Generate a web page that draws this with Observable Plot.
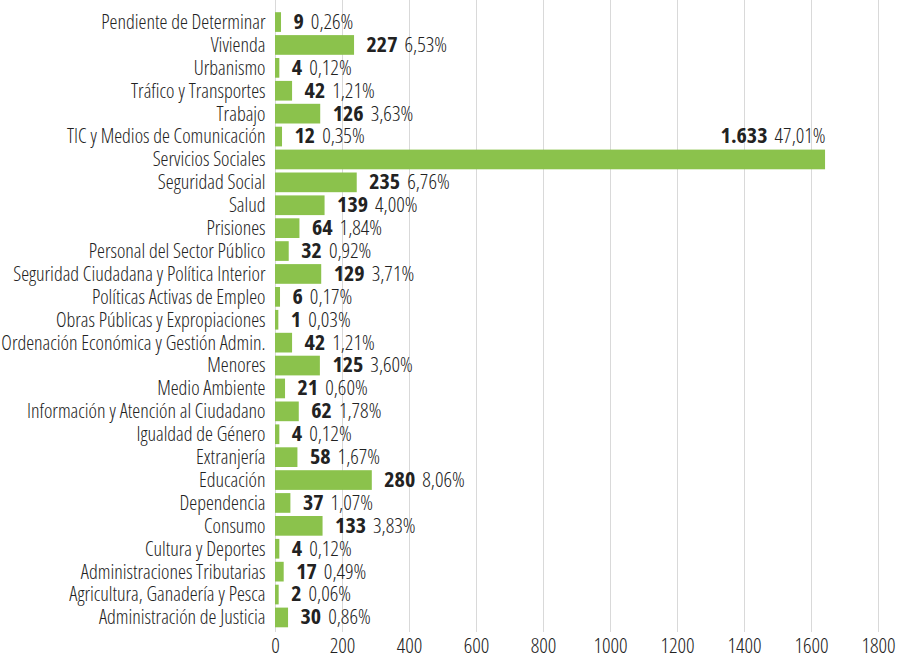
<!DOCTYPE html>
<html>
<head>
<meta charset="utf-8">
<script src="https://cdn.jsdelivr.net/npm/d3@7"></script>
<script src="https://cdn.jsdelivr.net/npm/@observablehq/plot@0.6"></script>
<style>
  html, body { margin: 0; padding: 0; background: #fff; }
  #chart svg { font-family: "Open Sans", "DejaVu Sans Condensed", sans-serif; font-stretch: condensed; font-weight: 300; }
</style>
</head>
<body>
<div id="chart"></div>
<script>
const categories = [
  "Pendiente de Determinar", "Vivienda", "Urbanismo", "Tráfico y Transportes", "Trabajo",
  "TIC y Medios de Comunicación", "Servicios Sociales", "Seguridad Social", "Salud", "Prisiones",
  "Personal del Sector Público", "Seguridad Ciudadana y Política Interior", "Políticas Activas de Empleo",
  "Obras Públicas y Expropiaciones", "Ordenación Económica y Gestión Admin.", "Menores", "Medio Ambiente",
  "Información y Atención al Ciudadano", "Igualdad de Género", "Extranjería", "Educación", "Dependencia",
  "Consumo", "Cultura y Deportes", "Administraciones Tributarias", "Agricultura, Ganadería y Pesca",
  "Administración de Justicia"
];
const counts = [9, 227, 4, 42, 126, 12, 1633, 235, 139, 64, 32, 129, 6, 1, 42, 125, 21, 62, 4, 58, 280, 37, 133, 4, 17, 2, 30];
const percents = [0.26, 6.53, 0.12, 1.21, 3.63, 0.35, 47.01, 6.76, 4.00, 1.84, 0.92, 3.71, 0.17, 0.03, 1.21, 3.60, 0.60, 1.78, 0.12, 1.67, 8.06, 1.07, 3.83, 0.12, 0.49, 0.06, 0.86];
const xTicks = [0, 200, 400, 600, 800, 1000, 1200, 1400, 1600, 1800];

const loc = d3.formatLocale({decimal: ",", thousands: ".", grouping: [3], currency: ["", "€"]});
const fmtCount = loc.format(",d");
const fmtPct = loc.format(".2f");

const data = categories.map((c, i) => ({
  cat: c, n: counts[i], p: percents[i],
  label: fmtCount(counts[i]) + "|" + fmtPct(percents[i]) + "%"
}));
const maxN = d3.max(counts);
const normal = data.filter(d => d.n !== maxN);
const big = data.filter(d => d.n === maxN);

const chart = Plot.plot({
  width: 900,
  height: 662,
  marginLeft: 275,
  marginRight: 22,
  marginTop: 0,
  marginBottom: 30,
  style: {fontSize: "20px", color: "#222"},
  x: {domain: [0, 1800], ticks: xTicks, tickFormat: d => String(d), tickSize: 0, tickPadding: 6, label: null},
  y: {domain: categories, padding: 0.14, round: false, insetTop: 9, insetBottom: 1.5, tickSize: 0, tickPadding: 10, label: null},
  marks: [
    Plot.ruleX(xTicks, {stroke: "#d9d9d9", strokeWidth: 1}),
    Plot.barX(data, {y: "cat", x: "n", fill: "#8bc24c", insetRight: -3}),
    Plot.text(normal, {y: "cat", x: "n", text: "label", textAnchor: "start", dx: 15, fill: "#222"}),
    Plot.text(big, {y: "cat", x: "n", text: "label", textAnchor: "end", dx: 3, dy: -23, fill: "#222"})
  ]
});
document.getElementById("chart").appendChild(chart);

// x tick labels slightly larger
chart.querySelectorAll('g[aria-label="x-axis tick label"] text, g[aria-label="x-axis"] text').forEach(t => {
  t.setAttribute("font-size", "21px");
});

const ns = "http://www.w3.org/2000/svg";
chart.querySelectorAll("text").forEach(t => {
  if (!t.textContent.includes("|")) return;
  const [a, b] = t.textContent.split("|");
  t.textContent = "";
  const s1 = document.createElementNS(ns, "tspan");
  s1.setAttribute("font-weight", "bold");
  s1.setAttribute("font-size", "22px");
  s1.textContent = a;
  const s2 = document.createElementNS(ns, "tspan");
  s2.setAttribute("dx", "7");
  s2.setAttribute("font-size", "21px");
  s2.textContent = b;
  t.appendChild(s1);
  t.appendChild(s2);
});
</script>
</body>
</html>
